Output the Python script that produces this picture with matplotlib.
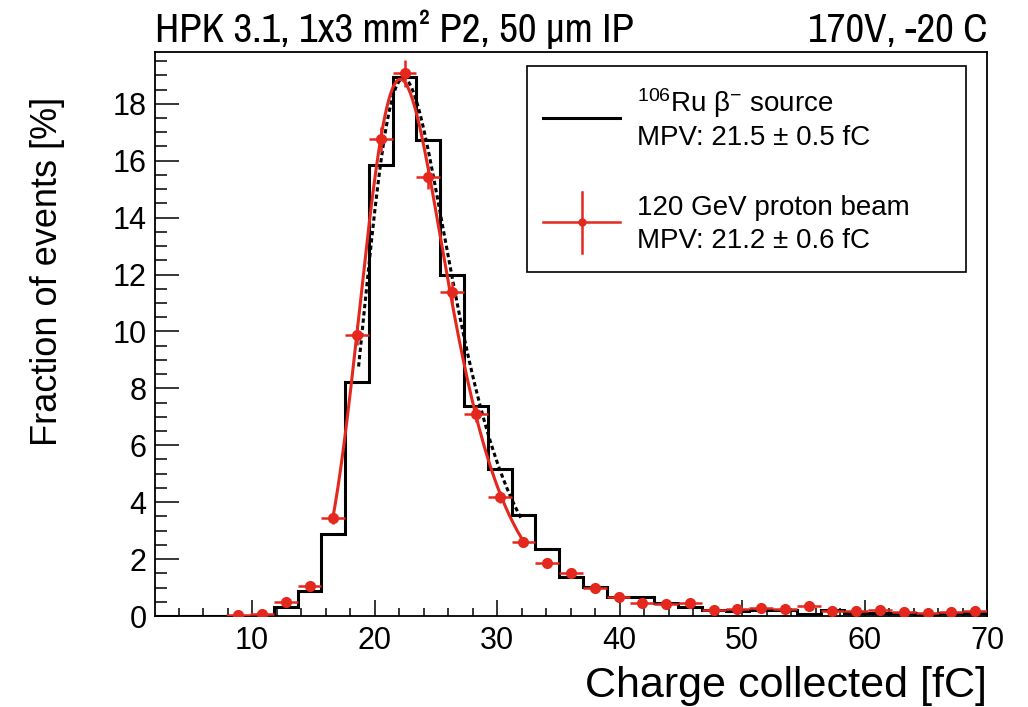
import numpy as np
import matplotlib
matplotlib.use('Agg')
import matplotlib.pyplot as plt
from matplotlib import font_manager
from matplotlib.patches import Rectangle
from matplotlib.lines import Line2D

# ---------------- data ----------------
bin_lo, bin_hi, n_bins = 2.08, 70.0, 35
source_frac = [0, 0, 0, 0, 0, 0.3, 0.87, 2.88, 8.23, 15.85, 18.93, 16.73, 12.0, 7.38,
               5.15, 3.55, 2.35, 1.38, 1.03, 0.68, 0.68, 0.45, 0.33, 0.2, 0.18, 0.2,
               0.22, 0.07, 0.2, 0.12, 0.1, 0.12, 0.08, 0.1, 0.12]
beam_first_bin = 3
beam_frac = [0.05, 0.06, 0.5, 1.05, 3.43, 9.87, 16.75, 19.07, 15.41, 11.37, 7.09, 4.19,
             2.61, 1.85, 1.5, 1.0, 0.68, 0.45, 0.42, 0.47, 0.21, 0.25, 0.28, 0.23, 0.35,
             0.18, 0.19, 0.21, 0.15, 0.09, 0.15, 0.18]
beam_err = [0.03, 0.03, 0.08, 0.11, 0.2, 0.34, 0.44, 0.47, 0.42, 0.36, 0.29, 0.22,
            0.17, 0.15, 0.13, 0.11, 0.09, 0.07, 0.07, 0.07, 0.05, 0.05, 0.06, 0.05, 0.06,
            0.05, 0.05, 0.05, 0.04, 0.03, 0.04, 0.05]

# Landau (x) Gauss fit parameters: (location, landau width, gauss sigma, amplitude)
beam_fit_params = (21.45, 1.90, 2.00, 38.50)
source_fit_params = (21.90, 2.10, 1.60, 35.32)
beam_fit_range = (16.6, 32.0)
source_fit_range = (18.7, 32.0)

title_left = "HPK 3.1, 1x3 mm² P2, 50 μm IP"
title_right = "170V, -20 C"
xlabel = "Charge collected [fC]"
ylabel = "Fraction of events [%]"
leg_source = ["$^{106}$Ru β$^{-}$ source", "MPV: 21.5 ± 0.5 fC"]
leg_beam = ["120 GeV proton beam", "MPV: 21.2 ± 0.6 fC"]

RED = '#e4281e'

plt.rcParams['font.family'] = ['Liberation Sans', 'DejaVu Sans']
plt.rcParams['mathtext.fontset'] = 'custom'
plt.rcParams['mathtext.rm'] = 'Liberation Sans'
plt.rcParams['mathtext.it'] = 'Liberation Sans:italic'

available = {f.name for f in font_manager.fontManager.ttflist}
title_font = next((f for f in ['Liberation Sans Narrow', 'Archivo Narrow', 'Liberation Sans']
                   if f in available), 'Liberation Sans')

edges = np.linspace(bin_lo, bin_hi, n_bins + 1)
centers = 0.5 * (edges[1:] + edges[:-1])
half_w = 0.5 * (edges[1] - edges[0])

# --------- Landau (Moyal approx.) convolved with Gaussian ---------
dx = 0.05
xs = np.arange(-25, 100, dx)


def langaus(x, loc, w, s, amp):
    lam = xs / w
    m = np.exp(-0.5 * (lam + np.exp(-np.clip(lam, -600, 600))))
    n = int(6 * s / dx)
    k = np.arange(-n, n + 1) * dx
    kern = np.exp(-0.5 * (k / s) ** 2)
    kern /= kern.sum()
    g = np.convolve(m, kern, mode='same')
    return amp * np.interp(np.asarray(x) - loc, xs, g)


bc = centers[beam_first_bin:beam_first_bin + len(beam_frac)]

# ---------------- figure ----------------
W, H = 1028, 707
fig = plt.figure(figsize=(W / 100, H / 100), dpi=100)
L, R, T, B = 155, 987, 51.7, 616
ax = fig.add_axes([L / W, 1 - B / H, (R - L) / W, (B - T) / H])
ax.set_xlim(bin_lo, bin_hi)
ax.set_ylim(0, 19.83)

ax.stairs(source_frac, edges, color='black', lw=2.2, zorder=2)

xb = np.linspace(*beam_fit_range, 300)
ax.plot(xb, langaus(xb, *beam_fit_params), color=RED, lw=2.2, zorder=4)

xsrc = np.linspace(*source_fit_range, 300)
ax.plot(xsrc, langaus(xsrc, *source_fit_params), color='black', lw=2.2,
        ls=(0, (1.4, 1.0)), zorder=3)

ax.errorbar(bc, beam_frac, xerr=half_w, yerr=beam_err, fmt='o', color=RED, ms=7,
            elinewidth=1.8, capsize=0, zorder=5)

ax.set_xticks([10, 20, 30, 40, 50, 60, 70])
ax.set_xticks(np.arange(4, 70, 2), minor=True)
ax.set_yticks(np.arange(0, 19, 2))
ax.set_yticks(np.arange(0, 19.8, 0.5), minor=True)
ax.tick_params(axis='both', which='both', direction='in', labelsize=22, width=1.1)
ax.tick_params(axis='x', which='major', length=11.5, pad=7)
ax.tick_params(axis='x', which='minor', length=5.8)
ax.tick_params(axis='y', which='major', length=17.3, pad=6)
ax.tick_params(axis='y', which='minor', length=8.6)
for sp in ax.spines.values():
    sp.set_linewidth(1.3)


def fx(px):
    return px / W


def fy(py):
    return 1 - py / H


fig.text(fx(R), fy(697), xlabel, ha='right', va='baseline', fontsize=31)
fig.text(fx(48), fy(271), ylabel, ha='center', va='center', rotation=90, fontsize=26)
fig.text(fx(155), fy(42), title_left, ha='left', va='baseline', fontsize=29.5,
         family=[title_font, 'DejaVu Sans'])
fig.text(fx(R), fy(42), title_right, ha='right', va='baseline', fontsize=29.5,
         family=[title_font, 'DejaVu Sans'])

# legend box
fig.patches.append(Rectangle((fx(527), fy(272)), fx(966) - fx(527), fy(66) - fy(272),
                             transform=fig.transFigure, fill=False, lw=1.2, ec='black'))
fig.lines.append(Line2D([fx(543), fx(620)], [fy(118), fy(118)], transform=fig.transFigure,
                        color='black', lw=2.2))
fig.lines.append(Line2D([fx(543), fx(620)], [fy(222), fy(222)], transform=fig.transFigure,
                        color=RED, lw=1.8))
fig.lines.append(Line2D([fx(581.7), fx(581.7)], [fy(192), fy(253)], transform=fig.transFigure,
                        color=RED, lw=1.8))
fig.lines.append(Line2D([fx(581.7)], [fy(222)], transform=fig.transFigure,
                        color=RED, marker='o', ms=5))
LFS = 20
fig.text(fx(637), fy(111.7), leg_source[0], ha='left', va='baseline', fontsize=LFS)
fig.text(fx(637), fy(145), leg_source[1], ha='left', va='baseline', fontsize=LFS)
fig.text(fx(637), fy(215), leg_beam[0], ha='left', va='baseline', fontsize=LFS)
fig.text(fx(637), fy(248.3), leg_beam[1], ha='left', va='baseline', fontsize=LFS)

fig.savefig('out.png', dpi=100)
